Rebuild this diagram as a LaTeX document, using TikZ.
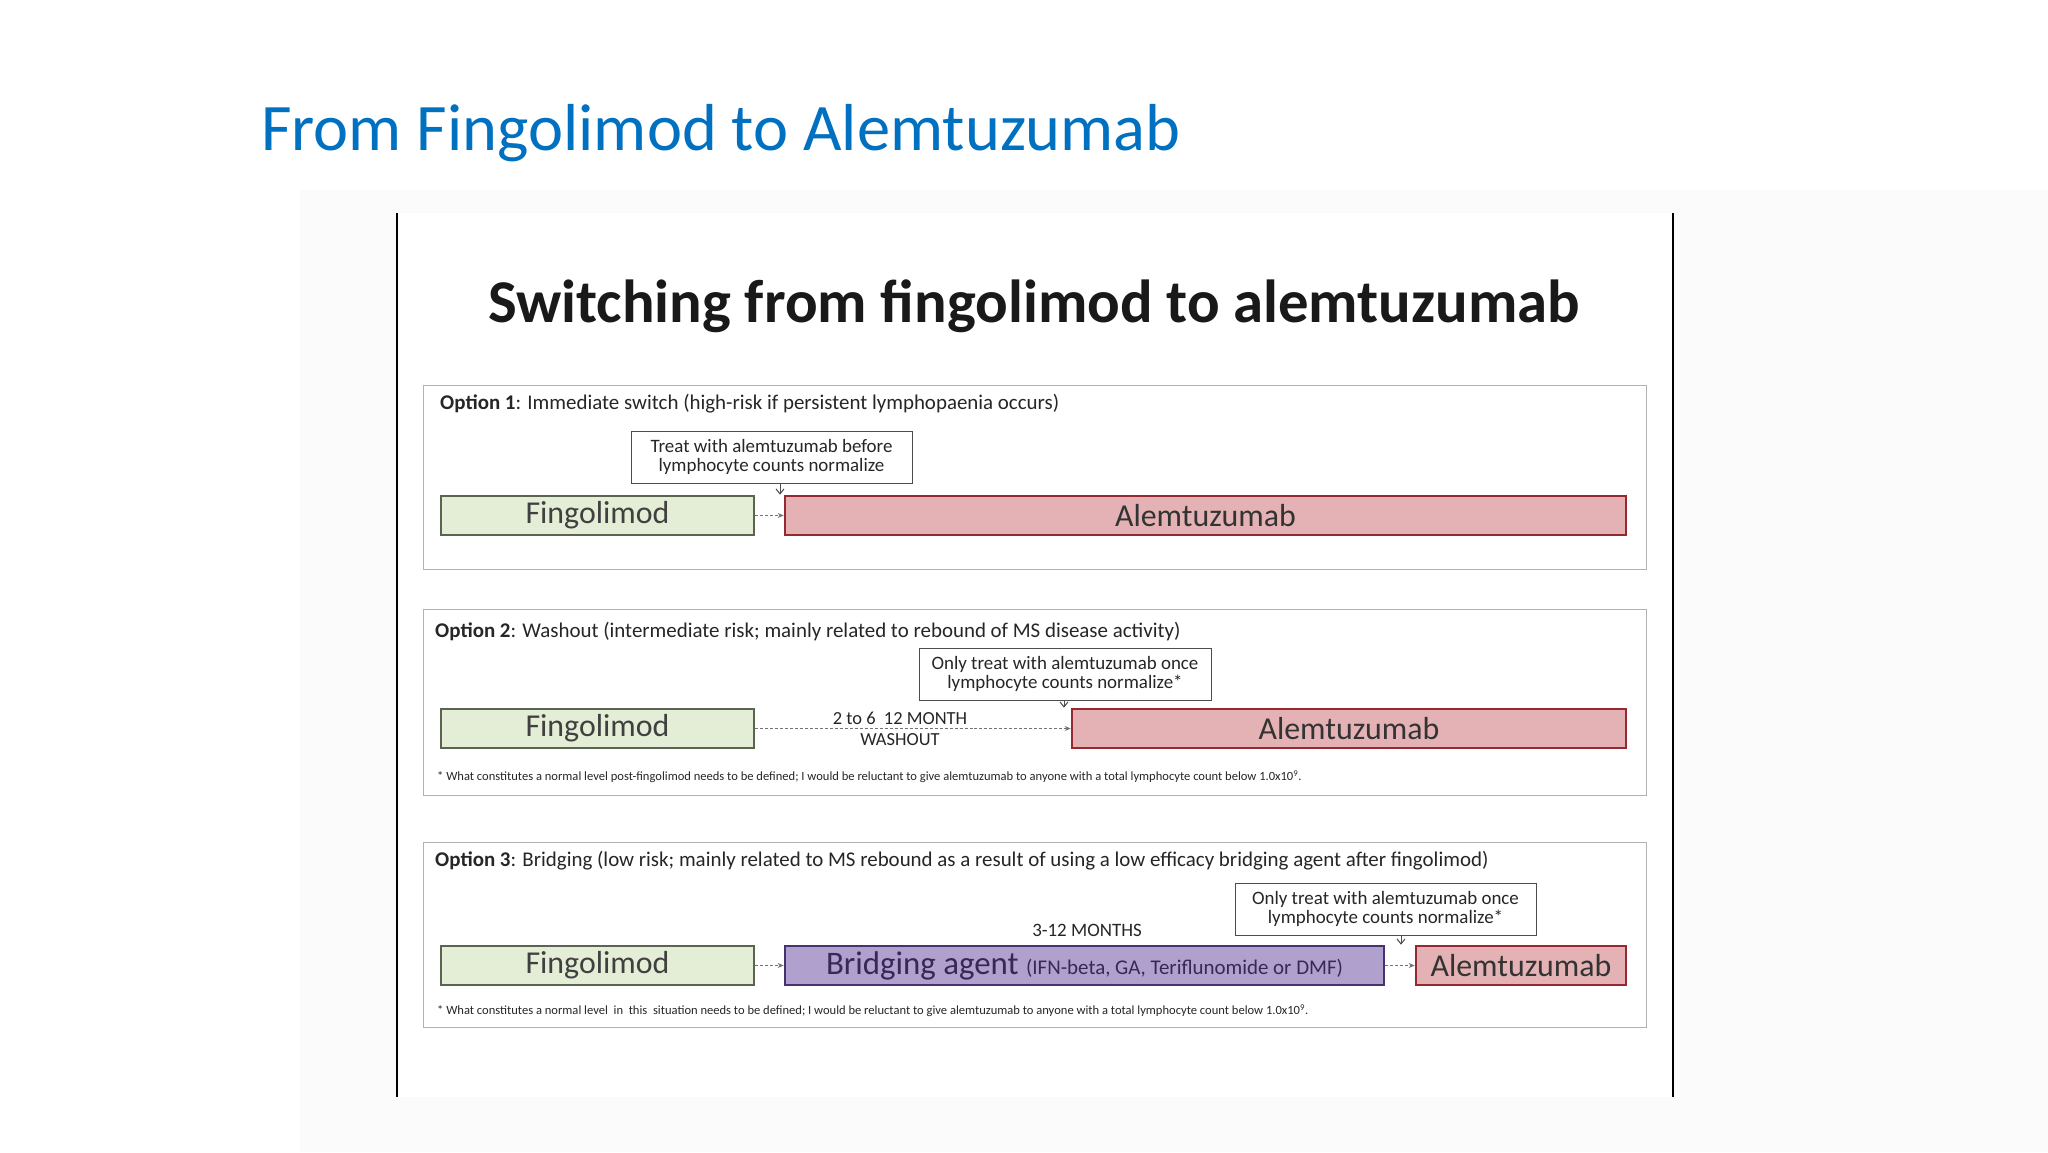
\documentclass[tikz,border=0pt]{standalone}
\usepackage{fontspec}
\setmainfont{Carlito}
\usetikzlibrary{arrows.meta}
\definecolor{ttl}{RGB}{0,112,192}
\definecolor{gfill}{RGB}{228,238,214}
\definecolor{gdraw}{RGB}{90,100,80}
\definecolor{pfill}{RGB}{228,178,180}
\definecolor{pdraw}{RGB}{150,40,50}
\definecolor{vfill}{RGB}{176,160,206}
\definecolor{vdraw}{RGB}{70,50,110}
\newcommand{\fs}[1]{\fontsize{#1}{#1}\selectfont}
\tikzset{
 x=1bp,y=-1bp,
 panel/.style={draw=black!30,line width=1.2bp},
 bar/.style={line width=2.6bp,minimum height=39bp,inner sep=0,font=\fs{32}},
 fing/.style={bar,draw=gdraw,fill=gfill,text=black!75},
 alem/.style={bar,draw=pdraw,fill=pfill,text=black!80},
 brid/.style={bar,draw=vdraw,fill=vfill,text=vdraw!80!black},
 call/.style={draw=black!70,line width=1bp,align=center,font=\fs{19},inner sep=0,text=black!85},
 lab/.style={font=\fs{21},anchor=west,inner sep=0,text=black!85},
 foot/.style={font=\fs{12.6},anchor=west,inner sep=0,text=black!85},
 dashar/.style={densely dashed,draw=black!55,line width=1bp,-{Stealth[length=6bp,width=5bp]}},
 callar/.style={draw=black!70,line width=1bp,-{Straight Barb[length=5bp,width=8bp]}},
}
\begin{document}
\begin{tikzpicture}
\useasboundingbox (0,0) rectangle (2048,1152);
\fill[black!1.5] (300,190) rectangle (2048,1152);
\fill[white] (397,213) rectangle (1673,1097);
\node[anchor=base west,inner sep=0,text=ttl,font=\fs{66.7}] (title) at (261,150) {From Fingolimod to Alemtuzumab};
\draw[line width=2.5bp] (397,213) coordinate (l1) -- (397,1097) coordinate (l2);
\draw[line width=2.5bp] (1673,213) coordinate (r1) -- (1673,1097) coordinate (r2);
\node[font=\bfseries\fs{61},inner sep=0,text=black!90] (head) at (1034,306) {Switching from fingolimod to alemtuzumab};
% panel 1
\node[panel,minimum width=1223bp,minimum height=184bp,anchor=north west,inner sep=0] (p1) at (423,385) {};
\node[lab] (o1) at (440,404) {\textbf{Option 1}: Immediate switch (high-risk if persistent lymphopaenia occurs)};
\node[call,minimum width=281bp,minimum height=52bp] (c1) at (771.5,457) {Treat with alemtuzumab before\\lymphocyte counts normalize};
\node[fing,minimum width=313bp] (f1) at (597.5,515.5) {Fingolimod};
\node[alem,minimum width=841bp] (a1) at (1205.5,515.5) {Alemtuzumab};
\draw[dashar] (f1) -- (a1);
\draw[callar] (c1.south -| 780,0) -- (a1.north -| 780,0);
% panel 2
\node[panel,minimum width=1223bp,minimum height=186bp,anchor=north west,inner sep=0] (p2) at (423,609) {};
\node[lab] (o2) at (435,632) {\textbf{Option 2}: Washout (intermediate risk; mainly related to rebound of MS disease activity)};
\node[call,minimum width=292bp,minimum height=52bp] (c2) at (1065,674) {Only treat with alemtuzumab once\\lymphocyte counts normalize*};
\node[fing,minimum width=313bp] (f2) at (597.5,728.5) {Fingolimod};
\node[alem,minimum width=554bp] (a2) at (1349,728.5) {Alemtuzumab};
\draw[dashar] (f2) -- (a2);
\draw[callar] (c2.south -| 1064,0) -- (a2.north -| 1064,0);
\node[font=\fs{18.5},align=center,inner sep=0,text=black!85] (w) at (900,729) {2 to 6\ \ 12 MONTH\\[2bp]WASHOUT};
\node[foot] (n2) at (437,777) {* What constitutes a normal level post-fingolimod needs to be defined; I would be reluctant to give alemtuzumab to anyone with a total lymphocyte count below 1.0x10\textsuperscript{9}.};
% panel 3
\node[panel,minimum width=1223bp,minimum height=185bp,anchor=north west,inner sep=0] (p3) at (423,842) {};
\node[lab] (o3) at (435,861) {\textbf{Option 3}: Bridging (low risk; mainly related to MS rebound as a result of using a low efficacy bridging agent after fingolimod)};
\node[call,minimum width=301bp,minimum height=52bp] (c3) at (1385.5,909) {Only treat with alemtuzumab once\\lymphocyte counts normalize*};
\node[font=\fs{19},inner sep=0,text=black!85] (m3) at (1087,930) {3-12 MONTHS};
\node[fing,minimum width=313bp] (f3) at (597.5,965.5) {Fingolimod};
\node[brid,minimum width=599bp,font=\fs{33}] (b3) at (1084.5,965.5) {Bridging agent {\fs{21}(IFN-beta, GA, Teriflunomide or DMF)}};
\node[alem,minimum width=210bp] (a3) at (1521,965.5) {Alemtuzumab};
\draw[dashar] (f3) -- (b3);
\draw[dashar] (b3) -- (a3);
\draw[callar] (c3.south -| 1401,0) -- (a3.north -| 1401,0);
\node[foot] (n3) at (437,1011) {* What constitutes a normal level\ \ in\ \ this\ \ situation needs to be defined; I would be reluctant to give alemtuzumab to anyone with a total lymphocyte count below 1.0x10\textsuperscript{9}.};
\end{tikzpicture}
\end{document}
